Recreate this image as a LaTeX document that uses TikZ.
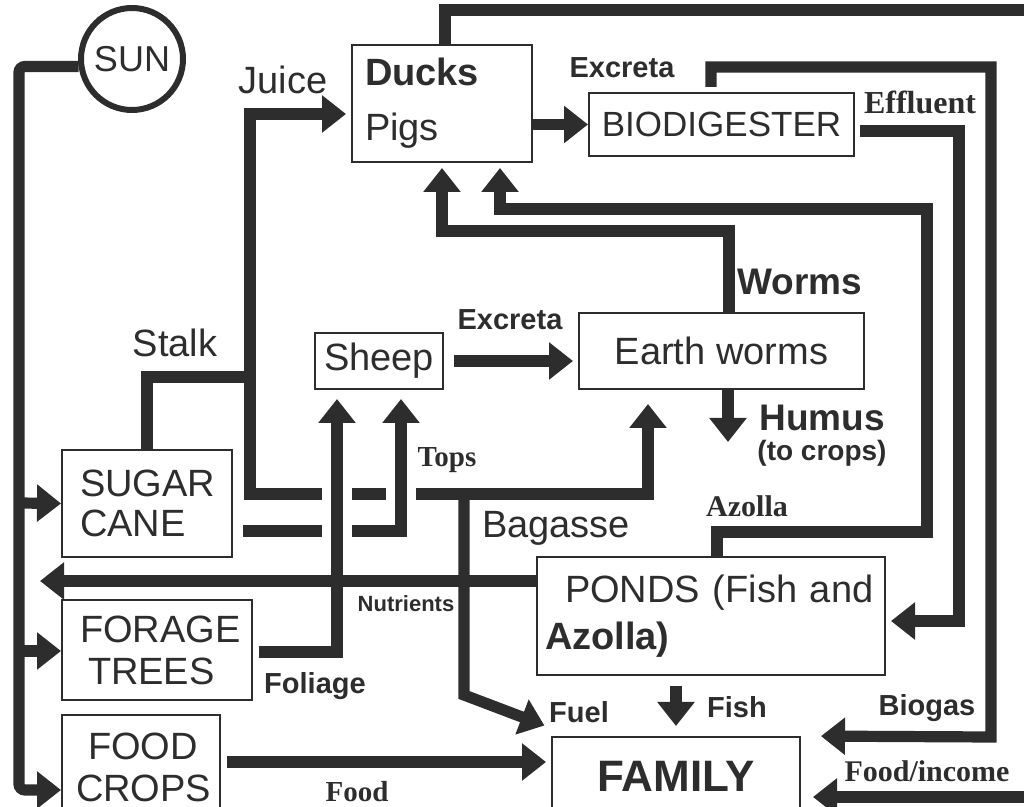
\documentclass[tikz,border=0pt]{standalone}
\usepackage{fontspec}
\setmainfont{Liberation Sans}
\newfontfamily\slabfont{Liberation Serif}
\usetikzlibrary{arrows.meta,calc}
\definecolor{ink}{RGB}{45,45,45}

\tikzset{
  flow/.style={draw=ink, line width=5.6pt, -{Triangle[length=12pt,width=18pt]}},
  pipe/.style={draw=ink, line width=5.6pt},
  bridge/.style={preaction={draw=white, line width=15pt, -}},
  box/.style={draw=ink, line width=1pt, rectangle, inner sep=0pt, text=ink,
    font=\fontsize{19}{22}\selectfont},
  sunball/.style={circle, draw=ink, line width=3pt, minimum size=51pt, inner sep=0pt,
    text=ink, font=\fontsize{18}{18}\selectfont},
  plain/.style={text=ink, font=\fontsize{19}{22}\selectfont},
  lab/.style={text=ink, font=\fontsize{#1}{#1}\selectfont\bfseries},
  lab/.default=14.5,
  slab/.style={text=ink, font=\fontsize{#1}{#1}\selectfont\slabfont\bfseries},
  slab/.default=14.5
}

\begin{document}
\begin{tikzpicture}[x=0.5pt, y=-0.5pt]
\useasboundingbox (0,0) rectangle (1024,807);
\clip (0,0) rectangle (1024,807);

% units and boxes
\node[sunball] (sun) at (132,59) {SUN};
\node[box, minimum width=90pt, minimum height=58.5pt, text width=77pt, align=left] (ducks) at (442,103.5) {\textbf{Ducks}\\[5.5pt]Pigs};
\node[box, minimum width=132.5pt, minimum height=31.5pt, font=\fontsize{17.5}{20}\selectfont] (bio) at (721.5,124.5) {BIODIGESTER};
\node[box, minimum width=64pt, minimum height=28pt] (sheep) at (379,361) {Sheep};
\node[box, minimum width=142.5pt, minimum height=38pt] (worms) at (721.5,351) {Earth worms};
\node[box, minimum width=85pt, minimum height=53.5pt, text width=67pt, align=left, font=\fontsize{19}{20}\selectfont] (cane) at (147,503.5) {SUGAR\\CANE};
\node[box, minimum width=95pt, minimum height=50pt, text width=77pt, align=left, font=\fontsize{19}{21}\selectfont] (forage) at (157,650) {FORAGE\\\hspace*{4pt}TREES};
\node[box, minimum width=79pt, minimum height=52.5pt, text width=65pt, align=left, font=\fontsize{19}{21}\selectfont] (crops) at (141,767.5) {\hspace*{6pt}FOOD\\CROPS};
\node[box, minimum width=174pt, minimum height=59pt, text width=166pt, align=left, font=\fontsize{19}{23.5}\selectfont] (ponds) at (711,616) {\hspace*{10pt}PONDS (Fish and\\\textbf{Azolla)}};
\node[box, minimum width=124pt, minimum height=39pt, font=\fontsize{22}{24}\selectfont\bfseries] (family) at (676,776) {FAMILY};

% labels
\node[plain] (ljuice) at (283,80) {Juice};
\node[plain] (lstalk) at (175,343) {Stalk};
\node[plain] (lbagasse) at (556,528) {Bagasse};
\node[lab] (lexbio) at (622,68) {Excreta};
\node[lab] (lexsheep) at (510,320) {Excreta};
\node[slab=16] (leffluent) at (920,102) {Effluent};
\node[lab=18.5] (lworms) at (800,282) {Worms};
\node[lab=18.5] (lhumus) at (822,418) {Humus};
\node[lab=14] (lcrops) at (822,453) {(to crops)};
\node[slab] (ltops) at (447,460) {Tops};
\node[slab=15] (lazolla) at (747,506) {Azolla};
\node[lab=11] (lnutr) at (406,604) {Nutrients};
\node[lab] (lfoliage) at (315,686) {Foliage};
\node[lab] (lfuel) at (579,712) {Fuel};
\node[lab] (lfish) at (737,707) {Fish};
\node[lab] (lbiogas) at (927,708) {Biogas};
\node[slab=15] (lincome) at (927,771) {Food/income};
\node[slab] (lfood) at (357,792) {Food};

% bends of the pipes
\coordinate (tcane) at (19,503);
\coordinate (tforage) at (19,651);
\coordinate (tcrops) at (19,790);
\coordinate (jn) at (250,377);
\coordinate (jtop) at (250,114);
\coordinate (bag) at (250,494);
\coordinate (bagend) at (648,494);
\coordinate (bagfork) at (464,494);
\coordinate (fuelbend) at (464,695);
\coordinate (topsbend) at (401,531);
\coordinate (foliagebend) at (337,652);
\coordinate (wormsbend) at (729,231);
\coordinate (azollafoot) at (717,532);
\coordinate (azollahigh) at (927,209);
\coordinate (azollax) at (500,209);
\coordinate (humus) at (728,442);
\coordinate (exfoot) at (711,67);
\coordinate (exlow) at (991,737);
\coordinate (effbend) at (959,131);
\coordinate (efflow) at (959,621);
\coordinate (nutrtip) at (40,581);
\coordinate (foodline) at (0,762);
\coordinate (income) at (1030,797);
\coordinate (topline) at (445,10);
\coordinate (offpage) at (1030,10);

% sun to the crops
\draw[flow, rounded corners=3pt] (sun.188) -| (tcrops) -- (crops.west |- tcrops);
\draw[flow] (tcane) -- (cane.west);
\draw[flow] (tforage) -- (forage.west |- tforage);

% sugar cane
\draw[pipe] (cane.north) |- (jn);
\draw[flow, shorten >=2.5pt] (jn) -- (jtop) -- (ducks.west |- jtop);
\draw[flow, shorten >=7pt] (jn) -- (bag) -| (worms.south -| bagend);
\draw[flow, shorten >=3.5pt] (bagfork) -- (fuelbend) -- ($(family.north west)+(0,-8)$);
\draw[flow, bridge, shorten <=5pt, shorten >=4.5pt] (cane.east |- topsbend) -| (sheep.south -| topsbend);
\draw[flow, bridge, shorten <=3pt, shorten >=4.5pt] (forage.east |- foliagebend) -| (sheep.south -| foliagebend);
\draw[flow] (ponds.west |- nutrtip) -- (nutrtip);

% animals and worms
\draw[flow, shorten <=5pt, shorten >=2.5pt] (sheep.east) -- (sheep.east -| worms.west);
\draw[flow] (ducks.east |- bio.west) -- (bio.west);
\draw[flow, shorten >=2.5pt] (worms.north -| wormsbend) -- (wormsbend) -| (ducks.south);
\draw[flow, shorten >=2.5pt] (ponds.north -| azollafoot) -- (azollafoot) -| (azollahigh) -| (ducks.south -| azollax);
\draw[flow] (worms.south -| humus) -- (humus);

% biodigester
\draw[flow, shorten <=2.5pt, shorten >=10pt] (bio.north -| exfoot) -- (exfoot) -| (exlow) -- (family.north east);
\draw[flow, shorten <=2.5pt, shorten >=2.5pt] (bio.east |- effbend) -- (effbend) |- (ponds.east |- efflow);

% to the family
\draw[flow, shorten <=5pt, shorten >=5pt] (ponds.south -| family.north) -- (family.north);
\draw[flow, shorten <=3pt, shorten >=2.5pt] (crops.east |- foodline) -- (family.west |- foodline);
\draw[flow, shorten >=6pt] (income) -- (family.east |- income);
\draw[pipe] (ducks.north -| topline) -- (topline) -- (offpage);
\end{tikzpicture}
\end{document}
